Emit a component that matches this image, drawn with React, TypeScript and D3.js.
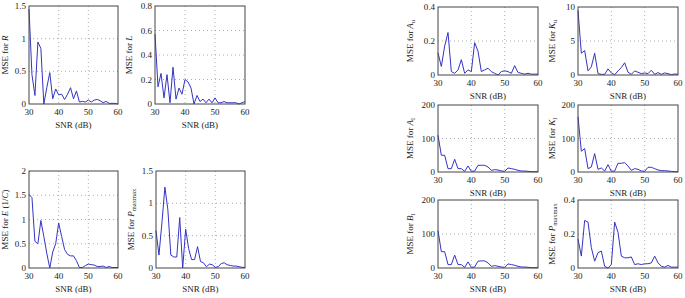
import React, { useEffect, useRef } from "react";
import * as d3 from "d3";

const snr = d3.range(30, 61);

const mseR = [1.45, 0.45, 0.13, 0.95, 0.85, 0.0, 0.25, 0.48, 0.08, 0.23, 0.14, 0.15, 0.07, 0.15, 0.25, 0.08, 0.2, 0.03, 0.04, 0.03, 0.06, 0.03, 0.06, 0.07, 0.05, 0.02, 0.04, 0.01, 0.01, 0.01, 0.0];
const mseL = [0.57, 0.14, 0.25, 0.05, 0.24, 0.01, 0.3, 0.04, 0.13, 0.08, 0.2, 0.18, 0.13, 0.0, 0.07, 0.02, 0.04, 0.01, 0.04, 0.01, 0.05, 0.01, 0.01, 0.02, 0.01, 0.01, 0.01, 0.01, 0.0, 0.01, 0.02];
const mseE = [1.52, 1.45, 0.55, 0.5, 0.98, 0.65, 0.3, 0.0, 0.33, 0.5, 0.93, 0.65, 0.38, 0.28, 0.25, 0.25, 0.15, 0.01, 0.01, 0.05, 0.08, 0.07, 0.06, 0.03, 0.03, 0.04, 0.01, 0.03, 0.01, 0.01, 0.01];
const msePLeft = [0.58, 0.2, 0.7, 1.25, 0.9, 0.2, 0.17, 0.17, 0.78, 0.0, 0.6, 0.3, 0.13, 0.13, 0.33, 0.1, 0.08, 0.02, 0.06, 0.05, 0.01, 0.02, 0.07, 0.08, 0.05, 0.04, 0.03, 0.03, 0.02, 0.01, 0.01];
const mseAu = [0.13, 0.05, 0.17, 0.25, 0.02, 0.01, 0.03, 0.09, 0.01, 0.03, 0.02, 0.19, 0.14, 0.02, 0.03, 0.04, 0.02, 0.01, 0.0, 0.02, 0.025, 0.02, 0.01, 0.055, 0.015, 0.01, 0.005, 0.01, 0.005, 0.005, 0.005];
const mseKu = [9.5, 3.2, 3.6, 0.6, 1.2, 3.2, 0.2, 0.1, 0.1, 0.9, 0.3, 0.05, 0.6, 1.1, 1.8, 0.4, 0.1, 0.6, 0.4, 0.2, 0.3, 0.2, 0.7, 0.1, 0.35, 0.1, 0.3, 0.2, 0.05, 0.15, 0.1];
const mseAl = [110, 50, 50, 10, 10, 38, 10, 10, 2, 18, 2, 3, 20, 20, 20, 15, 5, 7, 6, 3, 2, 12, 10, 8, 5, 3, 3, 2, 1, 1, 1];
const mseKl = [165, 62, 70, 10, 15, 55, 8, 12, 3, 22, 2, 3, 26, 26, 28, 18, 5, 10, 8, 3, 2, 14, 14, 10, 6, 4, 4, 3, 2, 1, 1];
const mseBl = [110, 48, 48, 10, 10, 38, 10, 10, 2, 18, 2, 3, 20, 21, 21, 15, 5, 7, 5, 3, 2, 12, 10, 8, 5, 3, 3, 2, 1, 1, 1];
const msePRight = [0.17, 0.07, 0.28, 0.27, 0.12, 0.04, 0.09, 0.1, 0.01, 0.0, 0.02, 0.27, 0.21, 0.07, 0.06, 0.06, 0.065, 0.02, 0.025, 0.02, 0.025, 0.025, 0.03, 0.07, 0.03, 0.01, 0.005, 0.015, 0.005, 0.005, 0.005];

const xTicks = [30, 40, 50, 60];

// label: [italic symbol, subscript, suffix]
const panels = [
  { values: mseR, yTicks: [0, 0.5, 1, 1.5], sym: "R", sub: "", suffix: "", box: [29, 6, 89, 98], lab: 21 },
  { values: mseL, yTicks: [0, 0.2, 0.4, 0.6, 0.8], sym: "L", sub: "", suffix: "", box: [155, 6, 90, 98], lab: 23 },
  { values: mseE, yTicks: [0, 0.5, 1, 1.5, 2], sym: "E", sub: "", suffix: " (1/C)", box: [29, 171, 89, 97], lab: 21 },
  { values: msePLeft, yTicks: [0, 0.5, 1, 1.5], sym: "P", sub: "maxmax", suffix: "", box: [156, 171, 89, 97], lab: 22 },
  { values: mseAu, yTicks: [0, 0.2, 0.4], sym: "A", sub: "u", suffix: "", box: [438, 7, 100, 68], lab: 25 },
  { values: mseKu, yTicks: [0, 5, 10], sym: "K", sub: "u", suffix: "", box: [578, 7, 100, 68], lab: 23 },
  { values: mseAl, yTicks: [0, 100, 200], sym: "A", sub: "l", suffix: "", box: [438, 105, 100, 67], lab: 25 },
  { values: mseKl, yTicks: [0, 100, 200], sym: "K", sub: "l", suffix: "", box: [578, 105, 100, 67], lab: 23 },
  { values: mseBl, yTicks: [0, 100, 200], sym: "B", sub: "l", suffix: "", box: [438, 200, 100, 68], lab: 25 },
  { values: msePRight, yTicks: [0, 0.2, 0.4], sym: "P", sub: "maxmax", suffix: "", box: [578, 200, 100, 68], lab: 23 },
];

const App = () => {
  const ref = useRef(null);

  useEffect(() => {
    d3.select(ref.current).select("svg").remove();

    const svg = d3
      .select(ref.current)
      .append("svg")
      .attr("width", 685)
      .attr("height", 298)
      .style("position", "absolute")
      .style("left", 0)
      .style("top", 0)
      .style("font-family", "'Liberation Serif', 'DejaVu Serif', serif")
      .style("background", "white");

    panels.forEach((p) => {
      const [left, top, w, h] = p.box;
      const g = svg.append("g").attr("transform", `translate(${left},${top})`);

      const x = d3.scaleLinear().domain([30, 60]).range([0, w]);
      const yMax = p.yTicks[p.yTicks.length - 1];
      const y = d3.scaleLinear().domain([0, yMax]).range([h, 0]);

      // dotted grid
      g.selectAll(".vgrid")
        .data(xTicks.slice(1, -1))
        .enter()
        .append("line")
        .attr("x1", (d) => x(d))
        .attr("x2", (d) => x(d))
        .attr("y1", 0)
        .attr("y2", h)
        .attr("stroke", "#999")
        .attr("stroke-width", 0.8)
        .attr("stroke-dasharray", "1,3");

      g.selectAll(".hgrid")
        .data(p.yTicks.slice(1, -1))
        .enter()
        .append("line")
        .attr("x1", 0)
        .attr("x2", w)
        .attr("y1", (d) => y(d))
        .attr("y2", (d) => y(d))
        .attr("stroke", "#999")
        .attr("stroke-width", 0.8)
        .attr("stroke-dasharray", "1,3");

      // data line
      const line = d3
        .line()
        .x((d, i) => x(snr[i]))
        .y((d) => y(d));

      g.append("path")
        .datum(p.values)
        .attr("fill", "none")
        .attr("stroke", "#3434c4")
        .attr("stroke-width", 1)
        .attr("d", line);

      // frame
      g.append("rect")
        .attr("x", 0)
        .attr("y", 0)
        .attr("width", w)
        .attr("height", h)
        .attr("fill", "none")
        .attr("stroke", "#444")
        .attr("stroke-width", 1);

      // tick labels
      g.selectAll(".xt")
        .data(xTicks)
        .enter()
        .append("text")
        .attr("x", (d) => x(d))
        .attr("y", h + 11)
        .attr("text-anchor", "middle")
        .attr("font-size", 9)
        .attr("fill", "#222")
        .text((d) => d);

      g.selectAll(".yt")
        .data(p.yTicks)
        .enter()
        .append("text")
        .attr("x", -3)
        .attr("y", (d) => y(d) + 3)
        .attr("text-anchor", "end")
        .attr("font-size", 9)
        .attr("fill", "#222")
        .text((d) => d);

      // x label
      g.append("text")
        .attr("x", w / 2)
        .attr("y", h + 24)
        .attr("text-anchor", "middle")
        .attr("font-size", 9)
        .attr("fill", "#222")
        .text("SNR (dB)");

      // y label
      const yl = g
        .append("text")
        .attr("transform", `translate(${-p.lab},${h / 2}) rotate(-90)`)
        .attr("text-anchor", "middle")
        .attr("font-size", 9)
        .attr("fill", "#222");
      yl.append("tspan").text("MSE for ");
      yl.append("tspan").attr("font-style", "italic").text(p.sym);
      if (p.sub) {
        yl.append("tspan")
          .attr("font-size", 6.5)
          .attr("dy", 2)
          .text(p.sub);
      }
      if (p.suffix) {
        const sfx = yl.append("tspan");
        sfx.append("tspan").text(" (1/");
        sfx.append("tspan").attr("font-style", "italic").text("C");
        sfx.append("tspan").text(")");
      }
    });
  }, []);

  return <div ref={ref}></div>;
};

export default App;
